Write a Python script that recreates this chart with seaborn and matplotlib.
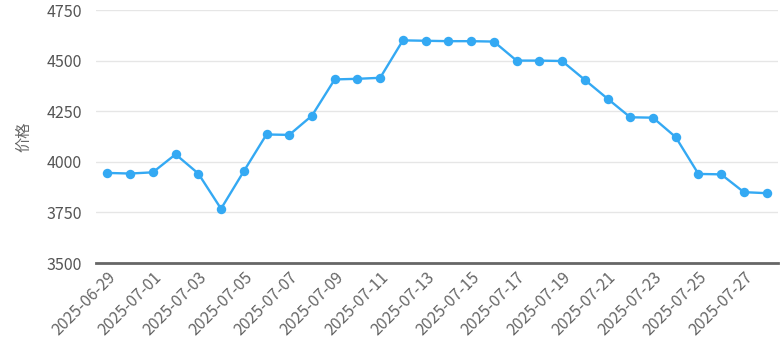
import matplotlib
matplotlib.use("Agg")
import matplotlib.pyplot as plt
import seaborn as sns
import pandas as pd

dates = pd.date_range("2025-06-29", "2025-07-28", freq="D").strftime("%Y-%m-%d").tolist()
prices = [3945, 3942, 3948, 4037, 3942, 3768, 3953, 4135, 4133, 4228,
          4407, 4410, 4415, 4600, 4598, 4596, 4596, 4594, 4500, 4500,
          4498, 4405, 4312, 4220, 4218, 4122, 3940, 3938, 3850, 3845]
yticks = [3500, 3750, 4000, 4250, 4500, 4750]

sns.set_theme(style="white")
plt.rcParams['font.family'] = ['Noto Sans CJK SC', 'DejaVu Sans']

df = pd.DataFrame({"date": dates, "price": prices})
fig = plt.figure(figsize=(7.82, 3.5), dpi=100)
ax = fig.add_axes([96/782, 1 - 263/350, (778-96)/782, (263-10)/350])

color = "#34a9f3"
sns.lineplot(data=df, x="date", y="price", ax=ax, color=color, linewidth=1.7,
             marker="o", markersize=6.8, markeredgewidth=0, sort=False)

ax.set_xlim(-0.5, len(dates) - 0.5)
ax.set_ylim(3500, 4750)
ax.set_yticks(yticks)
ax.set_xticks(range(0, len(dates), 2))
ax.set_xticklabels(dates[::2], rotation=45, ha="right", rotation_mode="anchor",
                   fontsize=11.5, color="#666666")
ax.tick_params(axis="y", labelsize=11.5, colors="#555555", pad=10, length=0)
ax.tick_params(axis="x", length=0, pad=4)
ax.grid(axis="y", color="#e6e6e6", linewidth=1)
ax.set_axisbelow(True)
for s in ["top", "right", "left"]:
    ax.spines[s].set_visible(False)
ax.spines["bottom"].set_color("#666666")
ax.spines["bottom"].set_linewidth(2)
ax.set_xlabel("")
ax.set_ylabel("价格", fontsize=11, color="#666666", labelpad=10)

fig.savefig("out.png", dpi=100)
